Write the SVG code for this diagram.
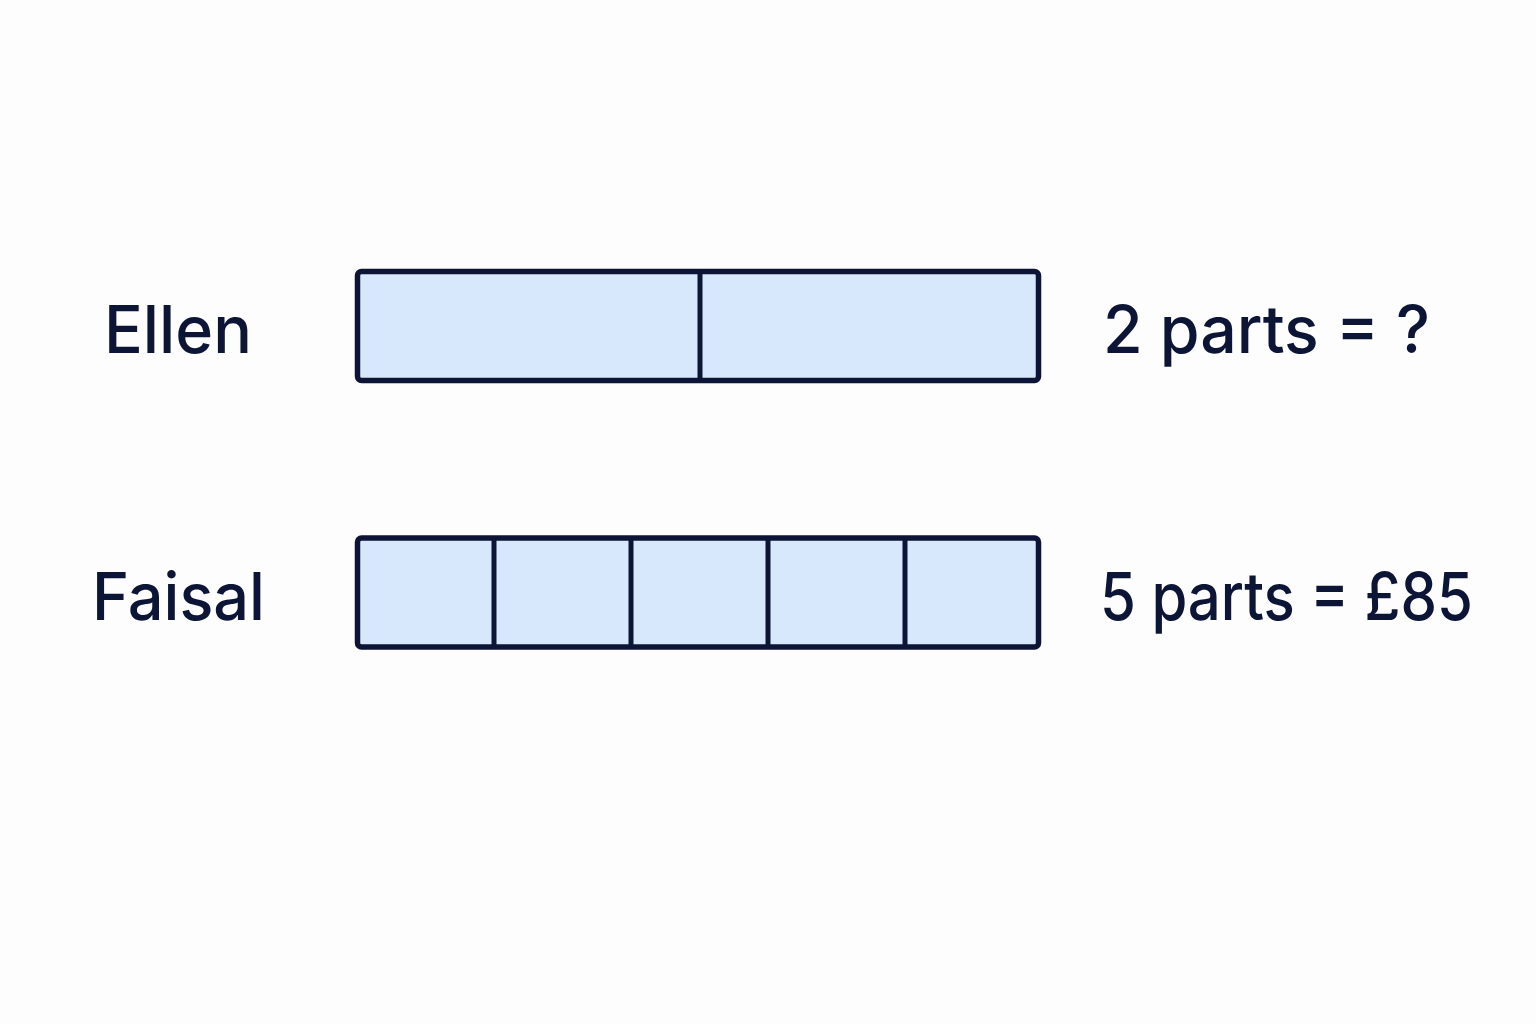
<svg xmlns="http://www.w3.org/2000/svg" width="1536" height="1024" viewBox="0 0 1536 1024">
<style>
.bar{fill:#d8e8fc;stroke:#0c1535;stroke-width:5.5;}
.div{stroke:#0c1535;stroke-width:5;}
.t{font-family:Inter,"Noto Sans","Liberation Sans",sans-serif;font-size:66px;fill:#0c1535;font-weight:500;}
</style>
<rect width="1536" height="1024" fill="#fdfdfd"/>
<g id="ellen">
<text class="t" x="104" y="353" textLength="148" lengthAdjust="spacingAndGlyphs">Ellen</text>
<rect class="bar" x="357.5" y="271.5" width="681" height="109" rx="4"/>
<line class="div" x1="700" y1="271.5" x2="700" y2="380.5"/>
<text class="t" x="1103" y="353" textLength="327" lengthAdjust="spacingAndGlyphs">2 parts = ?</text>
</g>
<g id="faisal">
<text class="t" x="92" y="620" textLength="173" lengthAdjust="spacingAndGlyphs">Faisal</text>
<rect class="bar" x="357.5" y="538" width="681" height="109" rx="4"/>
<line class="div" x1="494" y1="538" x2="494" y2="647"/>
<line class="div" x1="631" y1="538" x2="631" y2="647"/>
<line class="div" x1="768" y1="538" x2="768" y2="647"/>
<line class="div" x1="905" y1="538" x2="905" y2="647"/>
<text class="t" x="1100" y="620" textLength="373" lengthAdjust="spacingAndGlyphs">5 parts = £85</text>
</g>
<g id="connectors"></g>
</svg>
